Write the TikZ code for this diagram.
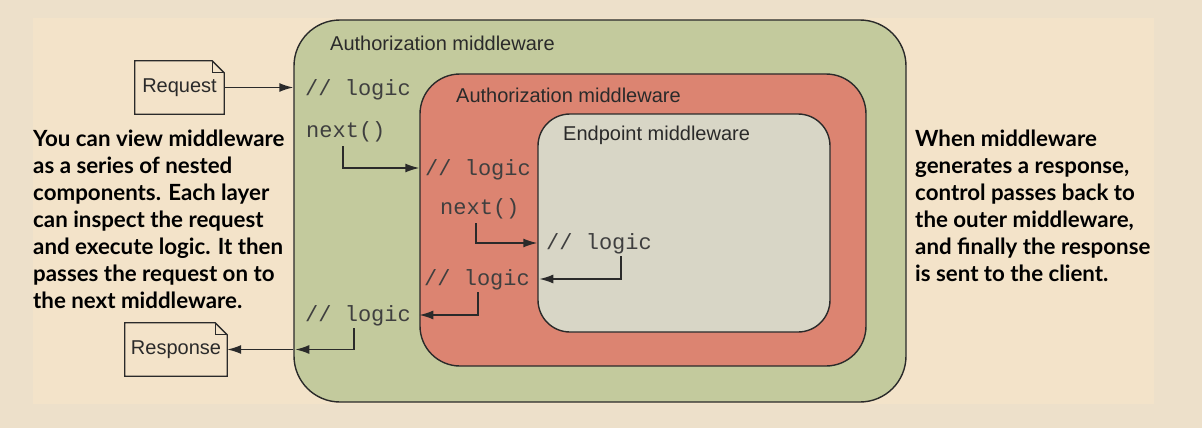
\documentclass[tikz,border=0pt]{standalone}
\usepackage{fontspec}
\setmainfont{Liberation Sans}
\newfontfamily\monofont{Liberation Mono}
\newfontfamily\boldfont{Lato}[UprightFont=* Bold]
\usetikzlibrary{arrows.meta,calc}
\definecolor{bgout}{HTML}{EDE0CA}
\definecolor{bgin}{HTML}{F3E3C9}
\definecolor{greenf}{HTML}{C3CA9D}
\definecolor{redf}{HTML}{DC8471}
\definecolor{grayf}{HTML}{D8D6C6}
\definecolor{linec}{HTML}{2A2A2A}
\tikzset{
  layer/.style={draw=linec, line width=1.4pt, inner sep=0pt},
  code/.style={font=\monofont\fontsize{22}{22}\selectfont, inner sep=0pt, anchor=west, text=linec!90},
  lbl/.style={font=\fontsize{20}{20}\selectfont, inner sep=0pt, anchor=west, text=linec},
  notetext/.style={font=\fontsize{20}{20}\selectfont, inner sep=0pt, text=linec},
  para/.style={font=\boldfont\fontsize{22.3}{27}\selectfont, inner sep=0pt, align=left, anchor=north west, text=black},
  arr/.style={draw=linec, line width=1.5pt, -{Latex[length=14pt,width=9pt]}},
}
\begin{document}
\begin{tikzpicture}[x=1pt,y=-1pt]
\fill[bgout] (0,0) rectangle (1202,428);
\fill[bgin] (33,18) rectangle (1154,404);
\useasboundingbox (0,0) rectangle (1202,428);

% layers
\node[layer, fill=greenf, rounded corners=46pt, minimum width=612pt, minimum height=382pt] (outer) at (600,211) {};
\node[layer, fill=redf, rounded corners=40pt, minimum width=446pt, minimum height=292pt] (red) at (643,220) {};
\node[layer, fill=grayf, rounded corners=32pt, minimum width=292pt, minimum height=218pt] (gray) at (684,223) {};

\node[lbl] (l1) at (330,43) {Authorization middleware};
\node[lbl] (l2) at (456,95) {Authorization middleware};
\node[lbl] (l3) at (563,135) {Endpoint middleware};

% code lines
\node[code] (logic1) at (305,90) {// logic};
\node[code] (next1) at (306,132) {next()};
\node[code] (logic2) at (425,170) {// logic};
\node[code] (next2) at (440,209) {next()};
\node[code] (logic3) at (546,244) {// logic};
\node[code] (logic4) at (424,280) {// logic};
\node[code] (logic5) at (305,316) {// logic};

% notes
\node[notetext, minimum width=89pt, minimum height=53pt] (req) at (179.5,87.5) {\raisebox{-2pt}{Request}};
\node[notetext, minimum width=102pt, minimum height=53pt] (resp) at (176,349.5) {\raisebox{-2pt}{Response}};
\foreach \n in {req,resp}{
  \draw[linec, line width=1.3pt, line join=miter]
    (\n.south west) -- (\n.north west) -- ([xshift=-12pt]\n.north east)
    -- ([yshift=-12pt]\n.north east) -- (\n.south east) -- cycle;
  \draw[linec, line width=1.1pt]
    ([xshift=-12pt]\n.north east) -- ([xshift=-12pt,yshift=-12pt]\n.north east) -- ([yshift=-12pt]\n.north east);
}

% connectors
\draw[arr] (req.east) -- (outer.west |- req.east);
\draw[arr] ([xshift=-3pt,yshift=-4pt]next1.south) |- ([yshift=2pt]red.west |- logic2.west);
\draw[arr] ([xshift=-4pt,yshift=-4pt]next2.south) |- ([yshift=1pt]gray.west |- logic3.west);
\draw[arr] ([xshift=-31pt,yshift=-2pt]logic3.south east) |- ([xshift=2pt,yshift=1pt]gray.west |- logic4.west);
\draw[arr] ([xshift=-52pt,yshift=-2pt]logic4.south east) |- ([yshift=1pt]red.west |- logic5.west);
\coordinate (gexit) at (outer.west |- resp.east);
\draw[arr] ([xshift=-57pt,yshift=-2pt]logic5.south east) |- ([xshift=2pt]gexit);
\draw[arr] (gexit) -- (resp.east);

% paragraphs
\node[para] (pl) at (33,130) {You can view middleware\\as a series of nested\\components. Each layer\\can inspect the request\\and execute logic. It then\\passes the request on to\\the next middleware.};
\node[para] (pr) at (915,130) {When middleware\\generates a response,\\control passes back to\\the outer middleware,\\and finally the response\\is sent to the client.};
\end{tikzpicture}
\end{document}
